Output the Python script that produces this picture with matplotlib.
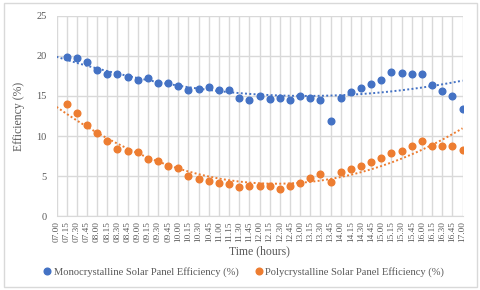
import numpy as np
import matplotlib
matplotlib.use('Agg')
import matplotlib.pyplot as plt
from matplotlib.lines import Line2D
from matplotlib.patches import Rectangle

plt.rcParams['font.family'] = ['Liberation Serif', 'DejaVu Serif']

# categories (07.00 has no readings)
times = ['07.00', '07.15', '07.30', '07.45', '08.00', '08.15', '08.30', '08.45',
         '09.00', '09.15', '09.30', '09.45', '10.00', '10.15', '10.30', '10.45',
         '11.00', '11.15', '11.30', '11.45', '12.00', '12.15', '12.30', '12.45',
         '13.00', '13.15', '13.30', '13.45', '14.00', '14.15', '14.30', '14.45',
         '15.00', '15.15', '15.30', '15.45', '16.00', '16.15', '16.30', '16.45',
         '17.00']

mono = [19.9, 19.7, 19.3, 18.2, 17.8, 17.8, 17.4, 17.0, 17.2, 16.6,
        16.6, 16.2, 15.7, 15.9, 16.1, 15.8, 15.8, 14.8, 14.5, 15.0,
        14.6, 14.75, 14.5, 15.0, 14.7, 14.5, 11.9, 14.8, 15.5, 16.0,
        16.5, 17.0, 18.0, 17.9, 17.75, 17.8, 16.4, 15.6, 15.0, 13.4]

poly = [14.0, 12.9, 11.4, 10.4, 9.4, 8.4, 8.1, 8.0, 7.1, 6.9,
        6.3, 6.0, 5.0, 4.6, 4.4, 4.1, 4.0, 3.6, 3.7, 3.7,
        3.8, 3.4, 3.7, 4.1, 4.7, 5.25, 4.3, 5.5, 5.9, 6.3,
        6.8, 7.25, 7.9, 8.1, 8.8, 9.4, 8.8, 8.8, 8.7, 8.3]

blue = '#4472C4'
orange = '#ED7D31'
grid_c = '#D9D9D9'
text_c = '#595959'

fig = plt.figure(figsize=(4.8, 2.9), dpi=100)
fig.patches.append(Rectangle((4 / 480, 3 / 290), 473 / 480, 284 / 290,
                             transform=fig.transFigure, fill=False,
                             edgecolor=grid_c, linewidth=1))
ax = fig.add_axes([56.5 / 480, 74 / 290, 406 / 480, 200 / 290])

x_all = np.arange(len(times))
x_data = np.arange(1, len(mono) + 1)

# 2nd order polynomial trendlines (as Excel)
for vals, col in [(mono, blue), (poly, orange)]:
    coef = np.polyfit(x_data, vals, 2)
    ax.plot(x_all, np.polyval(coef, x_all), linestyle=(0, (1, 1.2)),
            color=col, linewidth=1.4, zorder=2)

ax.plot(x_data, mono, 'o', color=blue, markersize=4.8, zorder=3)
ax.plot(x_data, poly, 'o', color=orange, markersize=4.8, zorder=3)

ax.set_xlim(0, len(times) - 1)
ax.set_ylim(0, 25)
ax.set_yticks([0, 5, 10, 15, 20, 25])
ax.set_xticks(x_all)
ax.set_xticklabels(times, rotation=90, fontsize=6.7, color=text_c)
ax.tick_params(axis='y', labelsize=7.5, labelcolor=text_c, length=0, pad=7)
ax.tick_params(axis='x', length=0, pad=4)
ax.grid(True, color=grid_c, linewidth=1)
ax.set_axisbelow(True)
for s in ax.spines.values():
    s.set_visible(False)
ax.spines['bottom'].set_visible(True)
ax.spines['bottom'].set_color(grid_c)

ax.set_xlabel('Time (hours)', fontsize=8.5, color=text_c, labelpad=2)
ax.set_ylabel('Efficiency (%)', fontsize=8.5, color=text_c, labelpad=8)

handles = [Line2D([], [], marker='o', linestyle='none', color=blue, markersize=4.8),
           Line2D([], [], marker='o', linestyle='none', color=orange, markersize=4.8)]
fig.legend(handles, ['Monocrystalline Solar Panel Efficiency (%)',
                     'Polycrystalline Solar Panel Efficiency (%)'],
           loc='center', bbox_to_anchor=(243 / 480, 1 - 272 / 290), ncol=2,
           frameon=False, fontsize=7.6, handletextpad=0.1, columnspacing=1.4,
           handlelength=1.0, labelcolor=text_c)

fig.savefig('out.png', dpi=100)
